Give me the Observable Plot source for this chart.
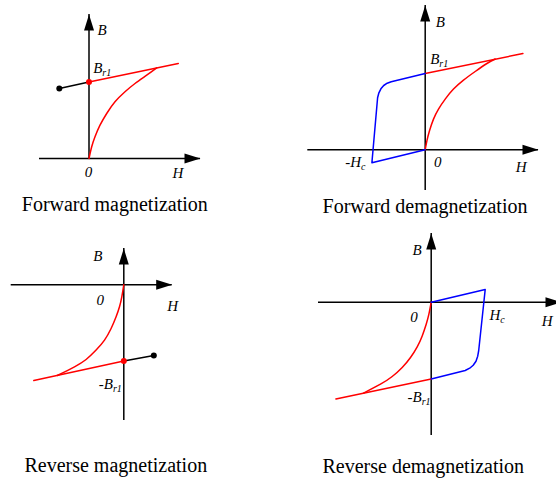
<!DOCTYPE html>
<html><head><meta charset="utf-8">
<script src="https://cdn.jsdelivr.net/npm/d3@7"></script>
<script src="https://cdn.jsdelivr.net/npm/@observablehq/plot@0.6"></script>
<style>
html,body{margin:0;padding:0;background:#fff;overflow:hidden;}
#root{position:relative;width:556px;height:481px;overflow:hidden;background:#fff;}
.panel{position:absolute;}
.cap{position:absolute;font-family:"Liberation Serif","Times New Roman",serif;font-size:20px;line-height:20px;white-space:nowrap;transform:translateX(-50%);color:#000;}
</style></head><body><div id="root"></div>
<script>
// ---------- data (H, B values relative to each panel's origin) ----------
// Forward magnetization
const fmAxisH = [-49.5, 111.5];
const fmAxisB = [0, 144];
const fmInitial = [[0,0],[2.7,11.7],[6,21.7],[11,33.3],[17.7,45],[26,56.7],[36,66.7],[46,75],[57.7,83.3],[67.7,90.6]];
const fmRecoil = [[0,76.5],[89.3,95]];
const fmBlack = [[-29.7,70],[0,76.5]];
const fmDotsBlack = [[-29.7,70]];
const fmDotsRed = [[0,76.5]];
const fmLabels = [
  {t:"B", x:8.5, y:128, a:"start"},
  {t:"B_r1", x:4.2, y:90.5, a:"start"},
  {t:"0", x:-0.5, y:-14, a:"middle"},
  {t:"H", x:83.5, y:-15, a:"start"}
];
// Forward demagnetization
const fdAxisH = [-117.4, 113.3];
const fdAxisB = [-40.7, 144.3];
const fdInitial = [[0,0],[1.7,9],[4.3,19],[8.3,30.7],[13.3,40.7],[20,50.7],[28.3,60.7],[38.3,69.7],[50,78.3],[61.7,86.3],[70,90.8]];
const fdRecoil = [[0,76.3],[97.7,96.3]];
const fdLoop = [[0,76.3],[-34,68],[-38,66.6],[-41.5,64.3],[-44.3,61],[-46.3,57],[-47.6,52],[-53.3,-13],[0,0]];
const fdLabels = [
  {t:"B", x:10.6, y:127.6, a:"start"},
  {t:"B_r1", x:5, y:91, a:"start"},
  {t:"-H_c", x:-80, y:-12.4, a:"start"},
  {t:"0", x:12.5, y:-12.4, a:"middle"},
  {t:"H", x:90.6, y:-17.4, a:"start"}
];
// Reverse magnetization
const rmAxisH = [-112.6, 48.4];
const rmAxisB = [-135.7, 36.3];
const rmInitial = [[0,0],[-2,-12],[-4.3,-22],[-7.7,-32],[-12.7,-43.7],[-19.3,-55.3],[-27.7,-65.3],[-37.7,-74.7],[-49.3,-82],[-66.5,-90.7]];
const rmRecoil = [[0,-76.3],[-90,-95.7]];
const rmBlack = [[0,-76.3],[30,-70.7]];
const rmDotsBlack = [[30,-70.7]];
const rmDotsRed = [[0,-76.3]];
const rmLabels = [
  {t:"B", x:-30.6, y:28.6, a:"start"},
  {t:"0", x:-23.5, y:-15.7, a:"middle"},
  {t:"H", x:43.4, y:-21.4, a:"start"},
  {t:"-B_r1", x:-25, y:-99, a:"start"}
];
// Reverse demagnetization
const rdAxisH = [-112.7, 130.3];
const rdAxisB = [-133.3, 68.7];
const rdInitial = [[0,0],[-2.3,-12],[-5,-22],[-9,-33.7],[-14,-44.7],[-20.7,-55.3],[-29,-65.3],[-39,-74.3],[-50.7,-82],[-67.7,-90.9]];
const rdRecoil = [[0,-76.7],[-95.3,-96.7]];
const rdLoop = [[0,-76.7],[34,-68.3],[38.5,-66],[42,-63],[44.8,-59],[46.5,-54],[47.5,-48.3],[54,12.7],[0,0]];
const rdLabels = [
  {t:"B", x:-18.7, y:51.7, a:"start"},
  {t:"0", x:-17.2, y:-14.5, a:"middle"},
  {t:"H_c", x:58.3, y:-13.3, a:"start"},
  {t:"H", x:110.6, y:-19.3, a:"start"},
  {t:"-B_r1", x:-23.7, y:-95, a:"start"}
];
const captions = ["Forward magnetization","Forward demagnetization","Reverse magnetization","Reverse demagnetization"];

// ---------- layout ----------
const RED = "#ff0000", BLUE = "#0000ff";
const panels = [
  {left:0, top:0, w:278, h:230, ox:88.5, oy:158, capX:114.8, capY:204, cap:captions[0],
   hAxis:fmAxisH, bAxis:fmAxisB,
   lines:[{d:fmInitial,c:RED,curve:"natural"},{d:fmRecoil,c:RED},{d:fmBlack,c:"#000"}],
   dots:[{d:fmDotsBlack,c:"#000"},{d:fmDotsRed,c:RED}], labels:fmLabels},
  {left:278, top:0, w:278, h:230, ox:146.7, oy:149.3, capX:425, capY:205.5, cap:captions[1],
   hAxis:fdAxisH, bAxis:fdAxisB,
   lines:[{d:fdInitial,c:RED,curve:"natural"},{d:fdRecoil,c:RED},{d:fdLoop,c:BLUE}],
   dots:[], labels:fdLabels},
  {left:0, top:230, w:278, h:230, ox:123.3, oy:54.3, capX:115.8, capY:464.5, cap:captions[2],
   hAxis:rmAxisH, bAxis:rmAxisB,
   lines:[{d:rmInitial,c:RED,curve:"natural"},{d:rmRecoil,c:RED},{d:rmBlack,c:"#000"}],
   dots:[{d:rmDotsBlack,c:"#000"},{d:rmDotsRed,c:RED}], labels:rmLabels},
  {left:278, top:230, w:278, h:230, ox:152.7, oy:71.7, capX:423.3, capY:466.3, cap:captions[3],
   hAxis:rdAxisH, bAxis:rdAxisB,
   lines:[{d:rdInitial,c:RED,curve:"natural"},{d:rdRecoil,c:RED},{d:rdLoop,c:BLUE}],
   dots:[], labels:rdLabels}
];

const arrowHead = { draw(ctx){ ctx.moveTo(0,0); ctx.lineTo(5,16); ctx.lineTo(-5,16); ctx.closePath(); } };
const FONT = '"Liberation Serif","Times New Roman",serif';

const root = document.getElementById("root");
for (const p of panels) {
  const marks = [
    Plot.ruleY([{y:0,x1:p.hAxis[0],x2:p.hAxis[1]}], {y:"y", x1:"x1", x2:"x2", stroke:"#000", strokeWidth:1.5}),
    Plot.ruleX([{x:0,y1:p.bAxis[0],y2:p.bAxis[1]}], {x:"x", y1:"y1", y2:"y2", stroke:"#000", strokeWidth:1.5}),
    Plot.dot([[p.hAxis[1],0]], {x:d=>d[0], y:d=>d[1], symbol:arrowHead, fill:"#000", stroke:"none", rotate:90}),
    Plot.dot([[0,p.bAxis[1]]], {x:d=>d[0], y:d=>d[1], symbol:arrowHead, fill:"#000", stroke:"none"}),
    ...p.lines.map(l => Plot.line(l.d, {x:d=>d[0], y:d=>d[1], stroke:l.c, strokeWidth:1.5, curve:l.curve || "linear"})),
    ...p.dots.map(s => Plot.dot(s.d, {x:d=>d[0], y:d=>d[1], r:3, fill:s.c, stroke:"none"})),
    ...p.labels.map(l => Plot.text([l], {x:"x", y:"y", text:"t", textAnchor:l.a, lineAnchor:"middle",
        fontSize:15, fontStyle:"italic", fontFamily:FONT, fill:"#000"}))
  ];
  const svg = Plot.plot({
    width:p.w, height:p.h, margin:0,
    x:{domain:[-p.ox, p.w - p.ox], axis:null},
    y:{domain:[p.oy - p.h, p.oy], axis:null},
    style:{overflow:"visible", background:"transparent"},
    marks
  });
  d3.select(svg).selectAll("text").each(function(){
    const s = this.textContent;
    if (s.includes("_")) {
      const [a,b] = s.split("_");
      this.textContent = a;
      d3.select(this).append("tspan").attr("font-size", 10).attr("dy", 3).text(b);
    }
  });
  svg.classList.add("panel");
  svg.style.left = p.left + "px";
  svg.style.top = p.top + "px";
  svg.style.position = "absolute";
  root.appendChild(svg);
  const cap = document.createElement("div");
  cap.className = "cap";
  cap.textContent = p.cap;
  cap.style.left = p.capX + "px";
  cap.style.top = (p.capY - 10) + "px";
  root.appendChild(cap);
}
</script></body></html>
